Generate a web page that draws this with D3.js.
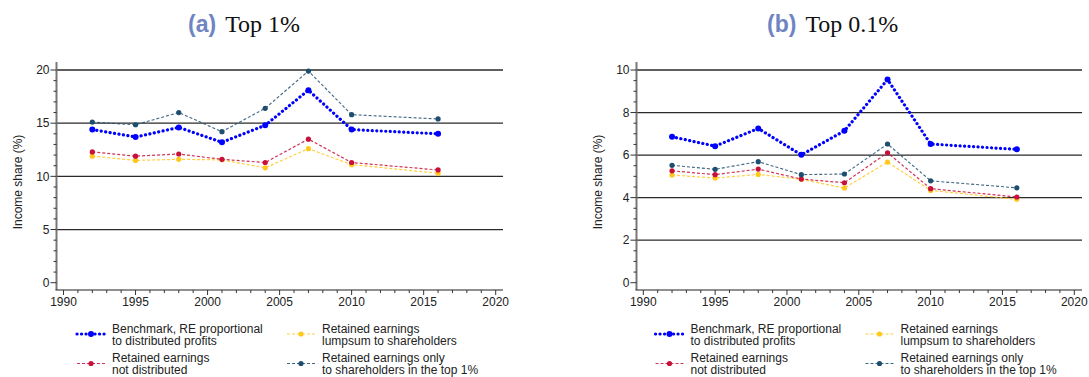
<!DOCTYPE html>
<html>
<head>
<meta charset="utf-8">
<script src="https://cdn.jsdelivr.net/npm/d3@7"></script>
<style>
  html, body { margin: 0; padding: 0; background: #fff; }
  svg { display: block; }
</style>
</head>
<body>
<svg id="chart" width="1089" height="377"></svg>
<script>
// ---- Data ----
const years = [1992, 1995, 1998, 2001, 2004, 2007, 2010, 2016];

const top1Benchmark      = [14.4, 13.7, 14.6, 13.2, 14.8, 18.1, 14.4, 14.0];
const top1NotDistributed = [12.3, 11.9, 12.1, 11.6, 11.3, 13.5, 11.3, 10.6];
const top1Lumpsum        = [11.9, 11.5, 11.6, 11.55, 10.8, 12.6, 11.1, 10.3];
const top1OnlyTop        = [15.1, 14.85, 16.0, 14.2, 16.4, 19.9, 15.8, 15.4];

const top01Benchmark      = [6.86, 6.42, 7.25, 6.01, 7.14, 9.55, 6.52, 6.27];
const top01NotDistributed = [5.26, 5.08, 5.34, 4.87, 4.70, 6.11, 4.42, 4.03];
const top01Lumpsum        = [5.06, 4.92, 5.09, 4.86, 4.45, 5.67, 4.34, 3.92];
const top01OnlyTop        = [5.52, 5.33, 5.69, 5.08, 5.11, 6.52, 4.79, 4.46];

const xTicks = [1990, 1995, 2000, 2005, 2010, 2015, 2020];
const top1YTicks = [0, 5, 10, 15, 20];
const top01YTicks = [0, 2, 4, 6, 8, 10];

const seriesNames = [
  ["Benchmark, RE proportional", "to distributed profits"],
  ["Retained earnings", "not distributed"],
  ["Retained earnings", "lumpsum to shareholders"],
  ["Retained earnings only", "to shareholders in the top 1%"]
];
const panelTitles = [["(a)", "Top 1%"], ["(b)", "Top 0.1%"]];
const yLabel = "Income share (%)";

// ---- Styles ----
const styles = [
  { color: "#0000ff", width: 3.2, dash: "0.1,4.4", cap: "round", r: 3.0 },   // benchmark
  { color: "#c8103a", width: 1.2, dash: "3,2", cap: "butt", r: 2.6 },        // not distributed
  { color: "#ffc81e", width: 1.2, dash: "3,2", cap: "butt", r: 2.6 },        // lumpsum
  { color: "#1d4e70", width: 1.1, dash: "3,2", cap: "butt", r: 2.6 }         // only top 1%
];
const drawOrder = [2, 1, 3, 0];

const svg = d3.select("#chart");
const font = "'Liberation Sans', Arial, Helvetica, sans-serif";

function drawPanel(cfg) {
  const g = svg.append("g");
  const x = d3.scaleLinear().domain([1990, 2020]).range([cfg.x0, cfg.x1]);
  const y = d3.scaleLinear().domain([0, cfg.yMax]).range([282.7, 70]);
  const axisX = cfg.axisX, axisR = cfg.axisR;

  // gridlines
  g.append("g").selectAll("line")
    .data(cfg.yTicks.filter(d => d > 0))
    .join("line")
    .attr("x1", axisX).attr("x2", axisR)
    .attr("y1", d => y(d)).attr("y2", d => y(d))
    .attr("stroke", "#2a2a2a").attr("stroke-width", 1.3);

  // Y axis
  const yMinor = d3.range(0, cfg.yMax + 1e-9, cfg.yMax / 20).filter(v => !cfg.yTicks.some(t => Math.abs(t - v) < 1e-9));
  const yAx = g.append("g").attr("transform", `translate(${axisX},0)`);
  yAx.append("line").attr("x1", 0).attr("x2", 0).attr("y1", 62).attr("y2", 290)
    .attr("stroke", "#777").attr("stroke-width", 2);
  yAx.selectAll("line.minor").data(yMinor).join("line").attr("class", "minor")
    .attr("x1", -3).attr("x2", 0).attr("y1", d => y(d)).attr("y2", d => y(d))
    .attr("stroke", "#333").attr("stroke-width", 1);
  yAx.selectAll("line.major").data(cfg.yTicks).join("line").attr("class", "major")
    .attr("x1", -6).attr("x2", 0).attr("y1", d => y(d)).attr("y2", d => y(d))
    .attr("stroke", "#333").attr("stroke-width", 1);
  yAx.selectAll("text").data(cfg.yTicks).join("text")
    .attr("x", -7).attr("y", d => y(d)).attr("dy", "0.35em")
    .attr("text-anchor", "end").attr("font-family", font).attr("font-size", 12)
    .attr("fill", "#222").text(d => d);

  // X axis
  const xMinor = d3.range(1990, 2021, 1).filter(v => v % 5 !== 0);
  const xAx = g.append("g").attr("transform", `translate(0,290)`);
  xAx.append("line").attr("x1", axisX - 1).attr("x2", axisR).attr("y1", 0).attr("y2", 0)
    .attr("stroke", "#222").attr("stroke-width", 1.2);
  xAx.selectAll("line.minor").data(xMinor).join("line").attr("class", "minor")
    .attr("x1", d => x(d)).attr("x2", d => x(d)).attr("y1", 0).attr("y2", 3)
    .attr("stroke", "#333").attr("stroke-width", 1);
  xAx.selectAll("line.major").data(xTicks).join("line").attr("class", "major")
    .attr("x1", d => x(d)).attr("x2", d => x(d)).attr("y1", 0).attr("y2", 5)
    .attr("stroke", "#333").attr("stroke-width", 1);
  xAx.selectAll("text").data(xTicks).join("text")
    .attr("x", d => x(d)).attr("y", 16)
    .attr("text-anchor", "middle").attr("font-family", font).attr("font-size", 12)
    .attr("fill", "#222").text(d => d);

  // Y label
  g.append("text")
    .attr("transform", `translate(${cfg.yLabelX},182) rotate(-90)`)
    .attr("text-anchor", "middle").attr("dy", "0.35em")
    .attr("font-family", font).attr("font-size", 12).attr("fill", "#222")
    .text(yLabel);

  // Series
  const line = d3.line().x((d, i) => x(years[i])).y(d => y(d));
  drawOrder.forEach(si => {
    const st = styles[si];
    const vals = cfg.series[si];
    g.append("path").datum(vals).attr("d", line)
      .attr("fill", "none").attr("stroke", st.color).attr("stroke-width", st.width)
      .attr("stroke-dasharray", st.dash).attr("stroke-linecap", st.cap)
      .attr("stroke-opacity", si === 0 ? 1 : 0.85);
    g.append("g").selectAll("circle").data(vals).join("circle")
      .attr("cx", (d, i) => x(years[i])).attr("cy", d => y(d))
      .attr("r", st.r).attr("fill", st.color);
  });

  // Title
  const t = g.append("text").attr("x", cfg.titleX).attr("y", 32);
  t.append("tspan").attr("font-family", font).attr("font-weight", "bold")
    .attr("font-size", 23).attr("fill", "#6f84c2").text(cfg.title[0]);
  t.append("tspan").attr("font-family", "'Liberation Serif', 'Times New Roman', serif")
    .attr("font-size", 24).attr("fill", "#111").attr("dx", 9).text(cfg.title[1]);

  // Legend
  const legendPos = [
    { sx: cfg.leg1, row: 0 }, { sx: cfg.leg1, row: 1 },
    { sx: cfg.leg2, row: 0 }, { sx: cfg.leg2, row: 1 }
  ];
  legendPos.forEach((p, si) => {
    const st = styles[si];
    const cy = p.row === 0 ? 334 : 363.5;
    const lg = g.append("g");
    lg.append("line").attr("x1", p.sx).attr("x2", p.sx + 28).attr("y1", cy).attr("y2", cy)
      .attr("stroke", st.color).attr("stroke-width", st.width)
      .attr("stroke-dasharray", st.dash).attr("stroke-linecap", st.cap)
      .attr("stroke-opacity", si === 0 ? 1 : 0.85);
    lg.append("circle").attr("cx", p.sx + 14).attr("cy", cy).attr("r", st.r).attr("fill", st.color);
    seriesNames[si].forEach((txt, k) => {
      lg.append("text").attr("x", p.sx + 35).attr("y", cy - 5.5 + k * 12).attr("dy", "0.35em")
        .attr("font-family", font).attr("font-size", 12).attr("fill", "#222").text(txt);
    });
  });
}

drawPanel({
  x0: 63.5, x1: 495.7, axisX: 56.5, axisR: 503, yMax: 20, yTicks: top1YTicks,
  yLabelX: 18, titleX: 188, title: panelTitles[0], leg1: 77, leg2: 287,
  series: [top1Benchmark, top1NotDistributed, top1Lumpsum, top1OnlyTop]
});
drawPanel({
  x0: 643.3, x1: 1074.3, axisX: 636.5, axisR: 1082, yMax: 10, yTicks: top01YTicks,
  yLabelX: 598, titleX: 767, title: panelTitles[1], leg1: 655.5, leg2: 865.5,
  series: [top01Benchmark, top01NotDistributed, top01Lumpsum, top01OnlyTop]
});
</script>
</body>
</html>
